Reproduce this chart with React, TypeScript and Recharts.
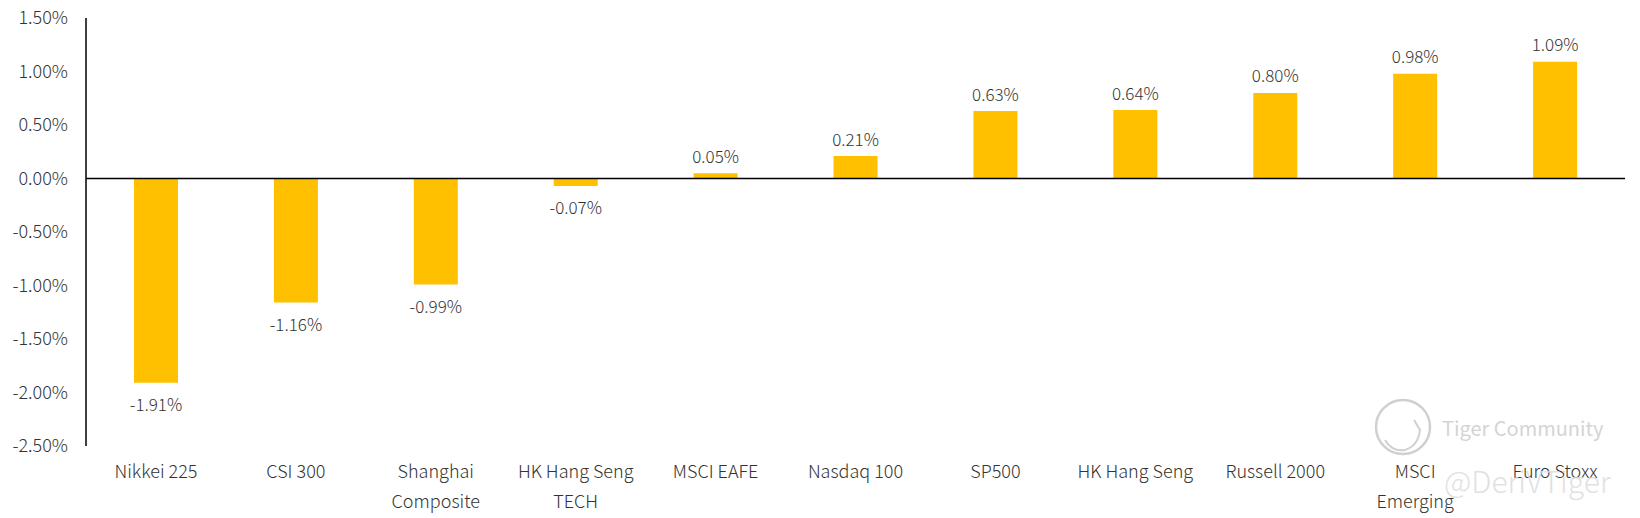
import React from "react";
import { Bar, BarChart, LabelList, ReferenceLine, XAxis, YAxis } from "recharts";

const indices = [
  "Nikkei 225",
  "CSI 300",
  "Shanghai\nComposite",
  "HK Hang Seng\nTECH",
  "MSCI EAFE",
  "Nasdaq 100",
  "SP500",
  "HK Hang Seng",
  "Russell 2000",
  "MSCI\nEmerging",
  "Euro Stoxx",
];
const returns = [-1.91, -1.16, -0.99, -0.07, 0.05, 0.21, 0.63, 0.64, 0.8, 0.98, 1.09];
const yTicks = [-2.5, -2.0, -1.5, -1.0, -0.5, 0, 0.5, 1.0, 1.5];

const data = indices.map((name, i) => ({ name, value: returns[i] }));

const FONT = "'Noto Sans CJK SC', 'Noto Sans', sans-serif";
const TEXT = "#333333";

function CategoryTick({ x, y, payload }: any) {
  const lines = String(payload.value).split("\n");
  return (
    <g>
      {lines.map((line, i) => (
        <text
          key={i}
          x={x}
          y={y + 22 + i * 30}
          textAnchor="middle"
          dominantBaseline="central"
          fontSize={18}
          fontWeight={300}
          fontFamily={FONT}
          fill={TEXT}
        >
          {line}
        </text>
      ))}
    </g>
  );
}

function ValueLabel({ x, y, width, height, value }: any) {
  const top = Math.min(y, y + height);
  const bottom = Math.max(y, y + height);
  const ty = value >= 0 ? top - 18 : bottom + 21;
  return (
    <text
      x={x + width / 2}
      y={ty}
      textAnchor="middle"
      dominantBaseline="central"
      fontSize={17}
      fontWeight={300}
      fontFamily={FONT}
      fill={TEXT}
    >
      {value.toFixed(2)}%
    </text>
  );
}

export default function App() {
  return (
    <div style={{ position: "fixed", left: 0, top: 0, width: 1640, height: 518, background: "#fff" }}>
      <BarChart
        width={1640}
        height={518}
        data={data}
        margin={{ top: 18, right: 15, bottom: 0, left: 0 }}
        barSize={44}
      >
        <XAxis
          dataKey="name"
          axisLine={false}
          tickLine={false}
          tickSize={0}
          height={72}
          interval={0}
          tick={<CategoryTick />}
        />
        <YAxis
          width={86}
          domain={[-2.5, 1.5]}
          ticks={yTicks}
          interval={0}
          axisLine={{ stroke: "#000", strokeWidth: 1.5 }}
          tickLine={false}
          tickSize={0}
          tickMargin={18}
          tickFormatter={(v: number) => `${v.toFixed(2)}%`}
          tick={{ fontSize: 18, fontWeight: 300, fontFamily: FONT, fill: TEXT }}
        />
        <Bar dataKey="value" fill="#FFC000" isAnimationActive={false}>
          <LabelList dataKey="value" content={<ValueLabel />} />
        </Bar>
        <ReferenceLine y={0} stroke="#000" strokeWidth={1.5} />
      </BarChart>
      <svg
        width={1640}
        height={518}
        style={{ position: "absolute", left: 0, top: 0, pointerEvents: "none" }}
      >
        <circle cx={1403} cy={427} r={27} fill="none" stroke="#d0d0d0" strokeWidth={2.5} />
        <path
          d="M1385 440 Q1392 452 1405 450 Q1418 446 1420 430 L1414 420"
          fill="none"
          stroke="#d0d0d0"
          strokeWidth={2}
        />
        <text
          x={1442}
          y={427}
          dominantBaseline="central"
          fontSize={20}
          fontFamily={FONT}
          fill="#d4d4d4"
        >
          Tiger Community
        </text>
        <text
          x={1444}
          y={480}
          dominantBaseline="central"
          fontSize={30}
          fontWeight={300}
          fontFamily={FONT}
          fill="#dcdcdc"
          opacity={0.85}
        >
          @DeriVTiger
        </text>
      </svg>
    </div>
  );
}
